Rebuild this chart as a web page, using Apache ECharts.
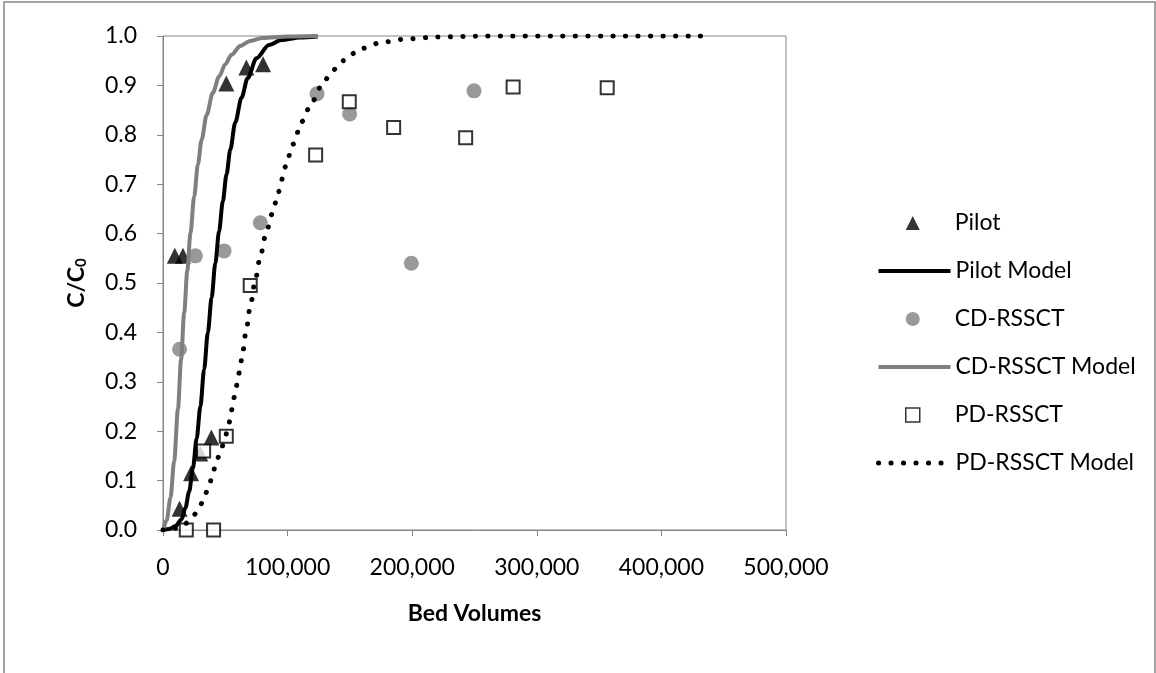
<!DOCTYPE html>
<html>
<head>
<meta charset="utf-8">
<script src="https://cdn.jsdelivr.net/npm/echarts@6/dist/echarts.min.js"></script>
<style>
  html, body { margin: 0; padding: 0; background: #fff; }
  #chart { width: 1156px; height: 673px; }
</style>
</head>
<body>
<div id="chart"></div>
<script>
// Breakthrough data: bed volumes vs. C/C0
const xTicks = [0, 100000, 200000, 300000, 400000, 500000];
const yTicks = [0, 0.1, 0.2, 0.3, 0.4, 0.5, 0.6, 0.7, 0.8, 0.9, 1.0];

const pilot = [
  [9500, 0.555], [16000, 0.555], [13300, 0.043], [22500, 0.115],
  [29900, 0.155], [38800, 0.187], [50800, 0.904], [66900, 0.936], [80300, 0.943]
];

const pilotModel = [
  [0, 0], [5000, 0.002], [10000, 0.008], [15000, 0.022], [18000, 0.045],
  [21000, 0.078], [24000, 0.125], [27000, 0.185], [30000, 0.25],
  [33000, 0.325], [36000, 0.4], [39000, 0.47], [42000, 0.54],
  [45000, 0.605], [48000, 0.665], [51000, 0.72], [54000, 0.77],
  [58000, 0.825], [63000, 0.875], [68000, 0.915], [75000, 0.955],
  [85000, 0.982], [95000, 0.992], [110000, 0.997], [124000, 0.999]
];

const cdRssct = [
  [13300, 0.366], [26000, 0.555], [49000, 0.565], [78100, 0.622],
  [123600, 0.883], [149800, 0.842], [199300, 0.540], [249600, 0.889]
];

const cdModel = [
  [0, 0], [3000, 0.02], [6000, 0.065], [9000, 0.14], [12000, 0.245],
  [14500, 0.345], [17000, 0.44], [19500, 0.525], [22000, 0.6],
  [25000, 0.675], [28000, 0.74], [31000, 0.79], [35000, 0.84],
  [40000, 0.885], [45000, 0.918], [50000, 0.943], [55000, 0.962],
  [62000, 0.98], [70000, 0.99], [80000, 0.996], [100000, 0.999], [124000, 1.0]
];

const pdRssct = [
  [18700, 0.0], [40600, 0.0], [32600, 0.16], [50800, 0.19], [70000, 0.495],
  [122500, 0.759], [149500, 0.867], [185100, 0.815], [242900, 0.794],
  [281000, 0.897], [356500, 0.895]
];

const pdModel = [
  [0, 0], [6000, 0.0], [12000, 0.005], [17900, 0.013], [24600, 0.03],
  [29900, 0.05], [33900, 0.073], [37400, 0.094], [40100, 0.118],
  [43300, 0.142], [46800, 0.165], [50000, 0.189], [52700, 0.213],
  [54600, 0.236], [56200, 0.26], [58300, 0.283], [60200, 0.307],
  [62000, 0.331], [63600, 0.354], [66600, 0.401], [70000, 0.452],
  [74000, 0.505], [78000, 0.553], [82500, 0.598], [87500, 0.639],
  [92800, 0.685], [98200, 0.735], [104300, 0.781], [111500, 0.827],
  [119600, 0.867], [128900, 0.907], [135600, 0.928], [142300, 0.946],
  [149800, 0.962], [160000, 0.975], [175000, 0.987], [195000, 0.994],
  [220000, 0.998], [260000, 1.0], [436600, 1.0]
];

const FONT = 'Lato';
const GRAY = '#868686';
const MARK_GRAY = '#7f7f7f';
const DOTS = [0.1, 12.4];
const legendText = { fontFamily: FONT, fontSize: 23, color: '#000', lineHeight: 24 };

const chart = echarts.init(document.getElementById('chart'), null, { renderer: 'canvas' });

chart.setOption({
  animation: false,
  backgroundColor: '#fff',
  textStyle: { fontFamily: FONT, color: '#000' },
  graphic: [{
    type: 'rect',
    shape: { x: 4, y: 2, width: 1151, height: 690 },
    style: { fill: 'none', stroke: GRAY, lineWidth: 1.5 },
    silent: true
  }],
  grid: {
    left: 163, right: 370, top: 36, bottom: 143,
    show: true, borderColor: GRAY, borderWidth: 1, backgroundColor: 'transparent'
  },
  legend: [
    {
      // marker entries
      orient: 'vertical', left: 900, top: 206,
      itemWidth: 14, itemHeight: 14, itemGap: 72,
      textStyle: Object.assign({ padding: [0, 0, 0, 30] }, legendText),
      data: [
        { name: 'Pilot' },
        { name: 'CD-RSSCT' },
        { name: 'PD-RSSCT', itemStyle: { borderWidth: 1.5 } }
      ]
    },
    {
      // model curve entries
      orient: 'vertical', left: 871, top: 254,
      itemWidth: 72, itemHeight: 14, itemGap: 72,
      textStyle: legendText,
      data: [
        { name: 'Pilot Model', itemStyle: { opacity: 0 }, lineStyle: { width: 4 } },
        { name: 'CD-RSSCT Model', itemStyle: { opacity: 0 }, lineStyle: { width: 4 } },
        { name: 'PD-RSSCT Model', itemStyle: { opacity: 0 }, lineStyle: { width: 5, type: DOTS, cap: 'round' } }
      ]
    }
  ],
  xAxis: {
    type: 'value',
    min: xTicks[0],
    max: xTicks[xTicks.length - 1],
    interval: 100000,
    name: 'Bed Volumes',
    nameLocation: 'middle',
    nameGap: 72,
    nameTextStyle: { fontFamily: FONT, fontSize: 23, fontWeight: 'bold', color: '#000' },
    axisLine: { show: true, lineStyle: { color: GRAY, width: 1 } },
    axisTick: { show: true, inside: false, length: 6, lineStyle: { color: GRAY } },
    splitLine: { show: false },
    axisLabel: {
      margin: 26,
      fontFamily: FONT, fontSize: 23, color: '#000',
      formatter: v => v.toLocaleString('en-US')
    }
  },
  yAxis: {
    type: 'value',
    min: yTicks[0],
    max: yTicks[yTicks.length - 1],
    interval: 0.1,
    name: '{a|C/C}{b|0}',
    nameLocation: 'middle',
    nameRotate: 90,
    nameGap: 74,
    nameTextStyle: {
      rich: {
        a: { fontFamily: FONT, fontSize: 23, fontWeight: 'bold', color: '#000' },
        b: { fontFamily: FONT, fontSize: 15, fontWeight: 'bold', color: '#000', verticalAlign: 'bottom', padding: [10, 0, 0, 0] }
      }
    },
    axisLine: { show: true, lineStyle: { color: GRAY, width: 1 } },
    axisTick: { show: true, inside: false, length: 6, lineStyle: { color: GRAY } },
    splitLine: { show: false },
    axisLabel: {
      margin: 26,
      fontFamily: FONT, fontSize: 23, color: '#000',
      formatter: v => v.toFixed(1)
    }
  },
  series: [
    {
      name: 'Pilot', type: 'scatter', data: pilot,
      symbol: 'triangle', symbolSize: 16,
      itemStyle: { color: '#000' }, z: 3
    },
    {
      name: 'Pilot Model', type: 'line', data: pilotModel,
      showSymbol: false, symbol: 'none', smooth: 0.3, smoothMonotone: 'x',
      lineStyle: { color: '#000', width: 4 }, itemStyle: { color: '#000' }, z: 4
    },
    {
      name: 'CD-RSSCT', type: 'scatter', data: cdRssct,
      symbol: 'circle', symbolSize: 15,
      itemStyle: { color: MARK_GRAY }, z: 3
    },
    {
      name: 'CD-RSSCT Model', type: 'line', data: cdModel,
      showSymbol: false, symbol: 'none', smooth: 0.3, smoothMonotone: 'x',
      lineStyle: { color: MARK_GRAY, width: 4 }, itemStyle: { color: MARK_GRAY }, z: 4
    },
    {
      name: 'PD-RSSCT', type: 'scatter', data: pdRssct,
      symbol: 'rect', symbolSize: 13,
      itemStyle: { color: '#fff', borderColor: '#000', borderWidth: 2 }, z: 5
    },
    {
      name: 'PD-RSSCT Model', type: 'line', data: pdModel,
      showSymbol: false, symbol: 'none', smooth: 0.3, smoothMonotone: 'x',
      lineStyle: { color: '#000', width: 5, type: DOTS, cap: 'round' },
      itemStyle: { color: '#000' }, z: 6
    }
  ]
});
</script>
</body>
</html>
